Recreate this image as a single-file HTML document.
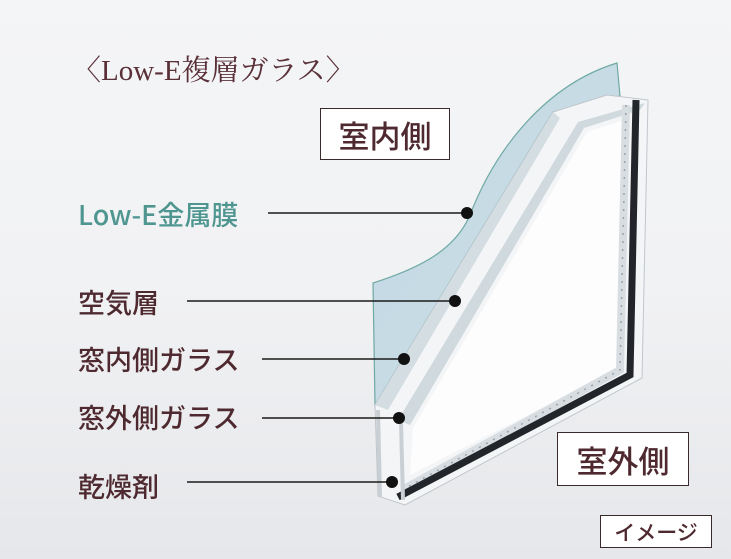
<!DOCTYPE html>
<html><head><meta charset="utf-8"><style>
body{margin:0;width:731px;height:559px;overflow:hidden;background:linear-gradient(180deg,#f4f5f7 0%,#f1f2f4 50%,#e6e7ea 100%);position:relative;font-family:"Liberation Sans","Noto Sans CJK JP",sans-serif;}
.t{position:absolute;white-space:nowrap;color:#4e2a30;font-family:"Noto Sans CJK JP",sans-serif;font-weight:500;line-height:1;}
.box{position:absolute;background:#fff;border:1.5px solid #3a2a2c;box-sizing:border-box;display:flex;align-items:center;justify-content:center;color:#4e2a30;font-family:"Noto Sans CJK JP",sans-serif;font-weight:500;}
svg{position:absolute;left:0;top:0}
</style></head><body>
<svg width="731" height="559" viewBox="0 0 731 559">
<defs>
<linearGradient id="bl" x1="0" y1="0" x2="1" y2="1"><stop offset="0" stop-color="#c3d9e3"/><stop offset="1" stop-color="#c9dde6"/></linearGradient>
</defs>
<path d="M373,283 C420,268 455,250 470,215 C495,150 545,85 617,63 L620,96 L553,112 L375,405 Z" fill="url(#bl)" stroke="#6fa9a3" stroke-width="1.2"/>
<polygon points="375,405 553,112 607,95 648,100 642,378 405,505 378,496" fill="#f3f5f7" stroke="#c0c6cc" stroke-width="1"/>
<polygon points="375,405 553,112 560,118 388,410" fill="#d4dde2"/>
<polygon points="398,420 578,122 645,103 640,110 584,128 410,425" fill="#d0d9de"/>
<polygon points="413,428 587,132 625,120 620,368 410,475" fill="#fdfdfd"/>
<polyline points="626,105 620,370 402,490" fill="none" stroke="#d8dde2" stroke-width="8"/>
<polyline points="626,105 620,370 402,490" fill="none" stroke="#9aa3ab" stroke-width="1.5" stroke-dasharray="2,6"/>
<polyline points="636,100 630,375 398,497" fill="none" stroke="#22262a" stroke-width="7"/>
<line x1="378" y1="410" x2="380" y2="497" stroke="#c9d0d5" stroke-width="4"/>
<line x1="401" y1="422" x2="403" y2="500" stroke="#c9d0d5" stroke-width="4"/>
<g stroke="#1a1a1a" stroke-width="1.5">
<line x1="268" y1="213" x2="467" y2="213"/>
<line x1="187" y1="301" x2="455" y2="301"/>
<line x1="262" y1="359" x2="404" y2="359"/>
<line x1="262" y1="418" x2="399" y2="418"/>
<line x1="187" y1="482" x2="392" y2="482"/>
</g>
<g fill="#111">
<circle cx="467" cy="213" r="6"/><circle cx="455" cy="301" r="6"/><circle cx="404" cy="359" r="6"/><circle cx="399" cy="418" r="6"/><circle cx="392" cy="482" r="6"/>
</g>
</svg>
<div class="t" style="left:72px;top:57px;font-size:29px;font-weight:normal;font-family:'Liberation Serif','Noto Serif CJK JP',serif;color:#5a3038;">〈Low-E複層ガラス〉</div>
<div class="t" style="left:78px;top:200px;font-size:27px;color:#4f9690;">Low-E金属膜</div>
<div class="t" style="left:78px;top:288px;font-size:27px;">空気層</div>
<div class="t" style="left:78px;top:345px;font-size:27px;">窓内側ガラス</div>
<div class="t" style="left:78px;top:403px;font-size:27px;">窓外側ガラス</div>
<div class="t" style="left:78px;top:472px;font-size:27px;">乾燥剤</div>
<div class="box" style="left:320px;top:108px;width:130px;height:52px;font-size:31px;">室内側</div>
<div class="box" style="left:557px;top:432px;width:132px;height:54px;font-size:31px;">室外側</div>
<div class="box" style="left:600px;top:515px;width:112px;height:33px;font-size:21px;">イメージ</div>
</body></html>
